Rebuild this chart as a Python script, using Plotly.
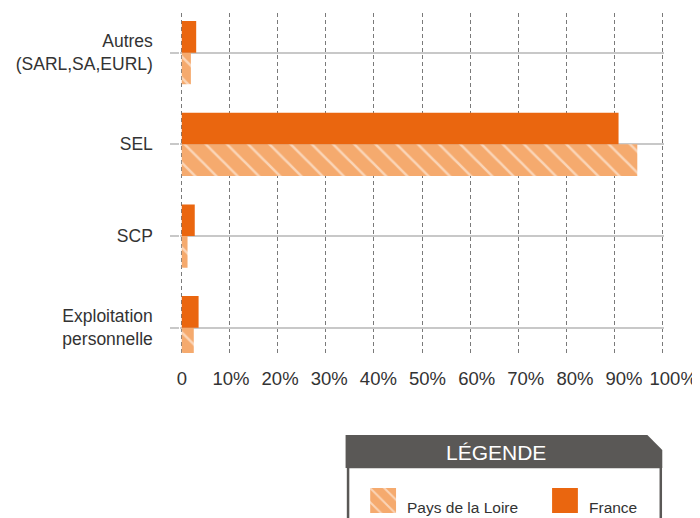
import plotly.graph_objects as go

# ---- data ----
categories = ["Autres<br>(SARL,SA,EURL)", "SEL", "SCP", "Exploitation<br>personnelle"]  # top -> bottom
france = [3.0, 90.9, 2.7, 3.5]
pays_de_la_loire = [1.9, 94.8, 1.2, 2.5]
series_names = ["Pays de la Loire", "France"]
x_tick_values = [0, 10, 20, 30, 40, 50, 60, 70, 80, 90, 100]
x_tick_labels = ["0", "10%", "20%", "30%", "40%", "50%", "60%", "70%", "80%", "90%", "100%"]
legend_title = "LÉGENDE"

# ---- styling ----
OFF = 8  # page body margin
W, H = 700 - OFF, 518 - OFF
C_FR = "#EA660F"
C_PDL = "#F5AA6E"
C_DARK = "#5A5856"
TXT = "#333333"
FONT = "Liberation Sans"


def px(x):
    return (x - OFF) / W


def py(y):
    return 1 - (y - OFF) / H


fig = go.Figure()

fig.add_trace(go.Bar(
    y=categories, x=pays_de_la_loire, orientation="h", name=series_names[0],
    marker=dict(color=C_PDL, line=dict(width=0),
                pattern=dict(shape="\\", fgcolor="white", size=15, solidity=0.17)),
    showlegend=False, hoverinfo="skip",
))
fig.add_trace(go.Bar(
    y=categories, x=france, orientation="h", name=series_names[1],
    marker=dict(color=C_FR, line=dict(width=0)),
    showlegend=False, hoverinfo="skip",
))
# empty trace so the tick-label axis is drawn
fig.add_trace(go.Scatter(x=[None], y=[None], xaxis="x2", yaxis="y4",
                         showlegend=False, hoverinfo="skip"))

# legend swatch (hatched) in a tiny inset axis
fig.add_trace(go.Bar(
    x=[0], y=[1], xaxis="x3", yaxis="y3", width=[1],
    marker=dict(color=C_PDL, line=dict(width=0),
                pattern=dict(shape="\\", fgcolor="white", size=10, solidity=0.2)),
    showlegend=False, hoverinfo="skip",
))

x0p, x100p = 178.0, 662.0
unit = (x100p - x0p) / 100.0
pad = 0.3
label_unit = 4.95  # tick label spacing in pixels per percent
plot_top, plot_bottom = 12.7, 353.0

fig.update_layout(
    width=W, height=H,
    margin=dict(l=0, r=0, t=0, b=0),
    paper_bgcolor="white", plot_bgcolor="rgba(0,0,0,0)",
    barmode="group", bargap=0.31, bargroupgap=0,
    font=dict(family=FONT, color=TXT),
    showlegend=False,
    xaxis=dict(
        domain=[px(x0p - pad * unit), px(x100p + pad * unit)],
        range=[-pad, 100 + pad],
        tickvals=x_tick_values, showticklabels=False, ticks="",
        showgrid=True, gridcolor="#7A7A7A", gridwidth=1, griddash="4px,3px",
        zeroline=False, showline=False, fixedrange=True,
    ),
    xaxis2=dict(
        anchor="y4", side="bottom",
        domain=[px(x0p), 1],
        range=[-0.01, (700 - x0p) / label_unit],
        tickvals=x_tick_values, ticktext=x_tick_labels,
        tickfont=dict(size=18.5, color=TXT, family=FONT),
        ticks="", showgrid=False, zeroline=False, showline=False,
        ticklabelstandoff=12, fixedrange=True,
    ),
    yaxis4=dict(domain=[py(plot_bottom), py(plot_top)], anchor="x2",
                visible=False, showgrid=False, fixedrange=True, range=[0, 1]),
    yaxis=dict(
        domain=[py(plot_bottom), py(plot_top)],
        type="category",
        categoryorder="array", categoryarray=categories[::-1],
        range=[-0.276, 3.436],
        showgrid=True, gridcolor="#C8C8C8", gridwidth=2,
        ticks="outside", ticklen=9, tickcolor="#C8C8C8", tickwidth=2,
        tickfont=dict(size=17.5, color=TXT, family=FONT),
        ticklabelstandoff=14,
        zeroline=False, showline=False, fixedrange=True,
    ),
    xaxis3=dict(domain=[px(367.7), px(394)], anchor="y3", range=[-0.5, 0.5],
                visible=False, fixedrange=True),
    yaxis3=dict(domain=[py(513), py(488)], anchor="x3", range=[0, 1],
                visible=False, fixedrange=True),
)

shapes = []
# legend header with cut corner
path = "M {a},{b} L {c},{b} L {d},{e} L {d},{f} L {a},{f} Z".format(
    a=px(343), b=py(435), c=px(647), d=px(662), e=py(450), f=py(468))
shapes.append(dict(type="path", xref="paper", yref="paper", path=path,
                   fillcolor=C_DARK, line=dict(width=0), layer="above"))
# legend body border
shapes.append(dict(type="rect", xref="paper", yref="paper",
                   x0=px(345.5), x1=px(660.5), y0=py(540), y1=py(467),
                   fillcolor="rgba(0,0,0,0)", line=dict(color=C_DARK, width=2.5)))
# France swatch
shapes.append(dict(type="rect", xref="paper", yref="paper",
                   x0=px(551), x1=px(577), y0=py(513), y1=py(488),
                   fillcolor=C_FR, line=dict(width=0)))
fig.update_layout(shapes=shapes)

annotations = [
    dict(text=legend_title, x=px(495), y=py(452), xref="paper", yref="paper",
         xanchor="center", yanchor="middle", showarrow=False,
         font=dict(size=21, color="white", family=FONT)),
    dict(text=series_names[0], x=px(403), y=py(507), xref="paper", yref="paper",
         xanchor="left", yanchor="middle", showarrow=False,
         font=dict(size=15.5, color=TXT, family=FONT)),
    dict(text=series_names[1], x=px(586), y=py(507), xref="paper", yref="paper",
         xanchor="left", yanchor="middle", showarrow=False,
         font=dict(size=15.5, color=TXT, family=FONT)),
]
fig.update_layout(annotations=annotations)

fig.write_html("out.html")
